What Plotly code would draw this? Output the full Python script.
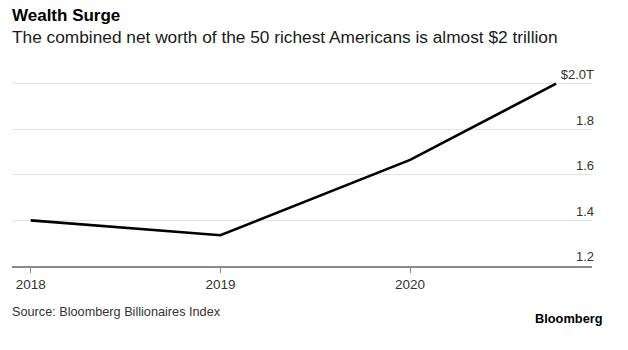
import plotly.graph_objects as go

dates = ["2018-01-01", "2019-01-01", "2020-01-01", "2020-10-08"]
net_worth = [1.40, 1.335, 1.665, 2.0]

y_ticks = [1.2, 1.4, 1.6, 1.8, 2.0]
y_ticktext = ["1.2", "1.4", "1.6", "1.8", "$2.0T"]
x_ticks = ["2018-01-01", "2019-01-01", "2020-01-01"]
x_ticktext = ["2018", "2019", "2020"]

FONT = "Liberation Sans, Arial, sans-serif"

W, H = 628, 350
l, r, t, b = 12, 36, 63, 84
pw, ph = W - l - r, H - t - b


def px(xp):
    return (xp - l) / pw


def py(yp):
    return (H - b - yp) / ph


fig = go.Figure()
fig.add_trace(go.Scatter(
    x=dates, y=net_worth, mode="lines",
    line=dict(color="#000000", width=2.6),
    hoverinfo="skip", showlegend=False,
))

fig.update_layout(
    width=W, height=H,
    margin=dict(l=l, r=r, t=t, b=b),
    paper_bgcolor="white", plot_bgcolor="white",
    font=dict(family=FONT, color="#333333"),
    xaxis=dict(
        type="date",
        range=["2017-11-26", "2020-12-16"],
        tickvals=x_ticks, ticktext=x_ticktext,
        showgrid=False, zeroline=False,
        showline=True, linecolor="#8a8a8a", linewidth=2,
        ticks="outside", ticklen=5, tickwidth=1, tickcolor="#8a8a8a",
        tickfont=dict(size=13.5, color="#333333", family=FONT),
        fixedrange=True,
    ),
    yaxis=dict(
        range=[1.2, 2.09],
        side="right",
        tickvals=y_ticks, ticktext=y_ticktext,
        ticklabelposition="inside top",
        ticklabelstandoff=-5,
        showgrid=True, gridcolor="#e3e3e3", gridwidth=1,
        zeroline=False, showline=False, ticks="",
        tickfont=dict(size=13, color="#333333", family=FONT),
        fixedrange=True,
    ),
)

fig.add_annotation(text="<b>Wealth Surge</b>", x=px(10), y=py(16),
                   xref="paper", yref="paper", showarrow=False,
                   font=dict(size=17, color="#000000", family=FONT),
                   xanchor="left", yanchor="middle")
fig.add_annotation(text="The combined net worth of the 50 richest Americans is almost $2 trillion",
                   x=px(10), y=py(37), xref="paper", yref="paper", showarrow=False,
                   font=dict(size=17.3, color="#1a1a1a", family=FONT),
                   xanchor="left", yanchor="middle")
fig.add_annotation(text="Source: Bloomberg Billionaires Index", x=px(10), y=py(312),
                   xref="paper", yref="paper", showarrow=False,
                   font=dict(size=12.7, color="#333333", family=FONT),
                   xanchor="left", yanchor="middle")
fig.add_annotation(text="<b>Bloomberg</b>", x=px(605), y=py(318),
                   xref="paper", yref="paper", showarrow=False,
                   font=dict(size=12.8, color="#000000", family=FONT),
                   xanchor="right", yanchor="middle")

fig.write_html("out.html")
